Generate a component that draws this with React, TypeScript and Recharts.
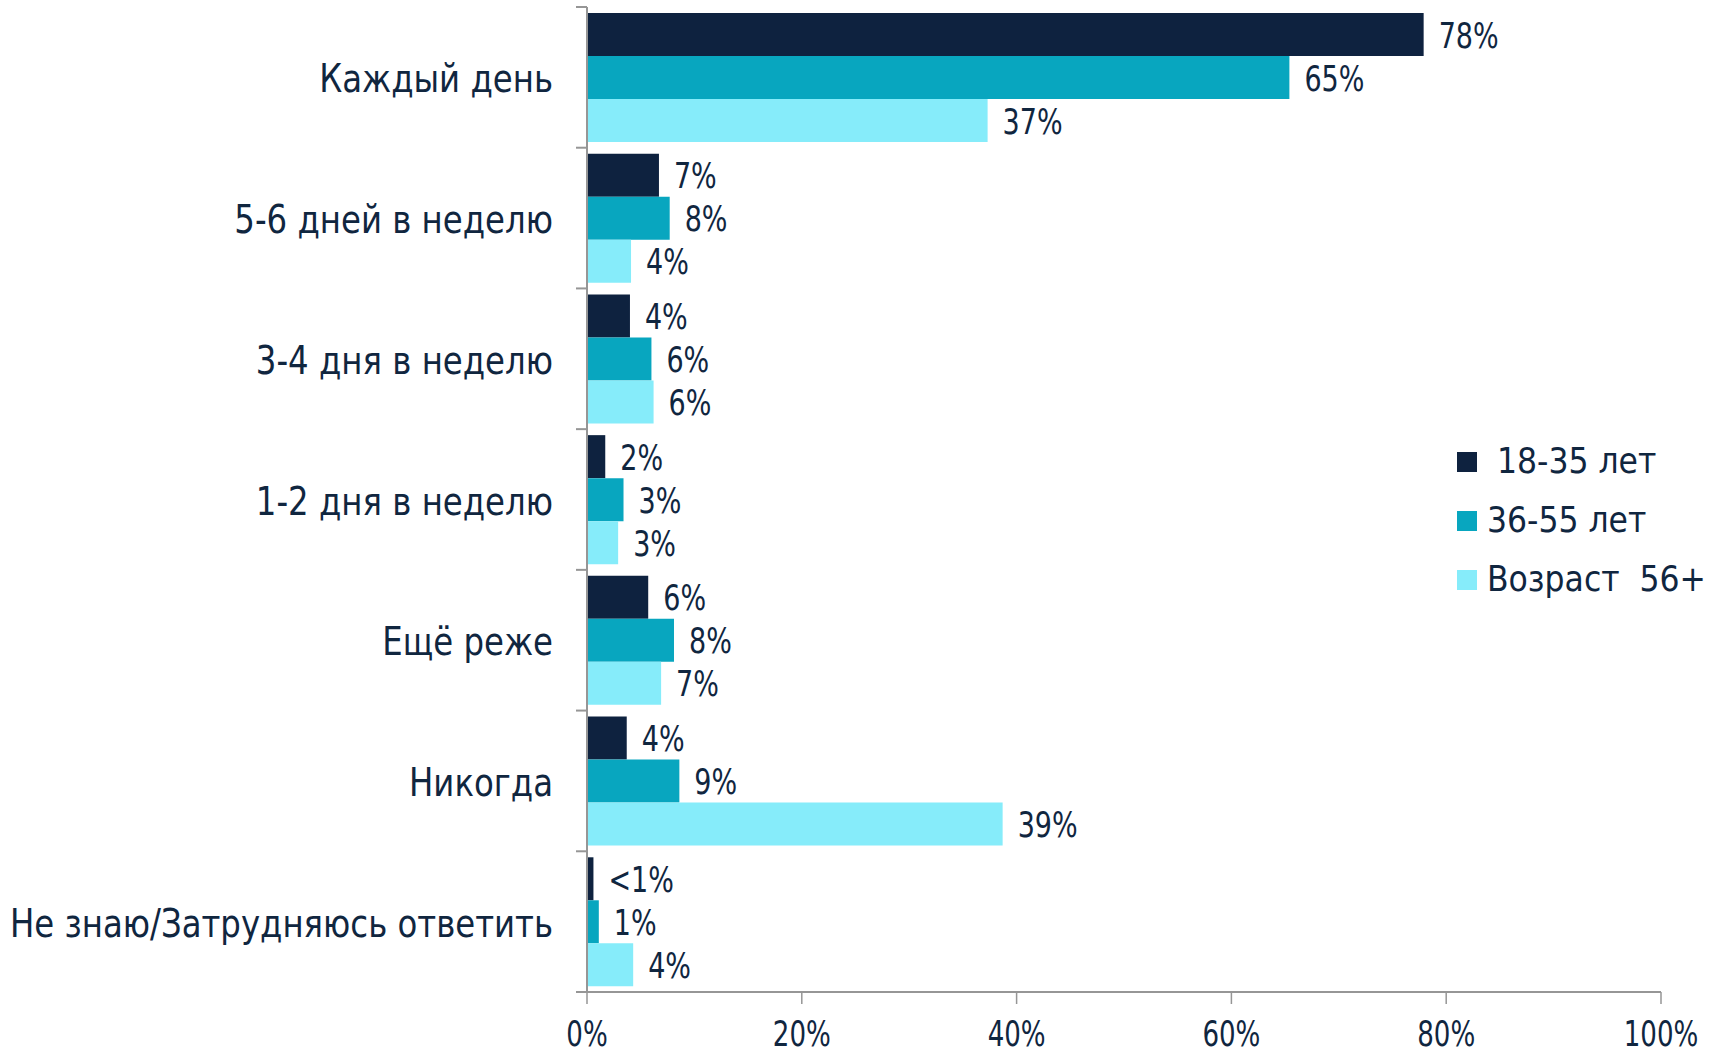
import React from 'react';
import { BarChart, Bar, XAxis, YAxis, Legend, LabelList } from 'recharts';

const categories = [
  'Каждый день',
  '5-6 дней в неделю',
  '3-4 дня в неделю',
  '1-2 дня в неделю',
  'Ещё реже',
  'Никогда',
  'Не знаю/Затрудняюсь ответить',
];
const youngValues = [77.9, 6.7, 4.0, 1.7, 5.7, 3.7, 0.6];
const middleValues = [65.4, 7.7, 6.0, 3.4, 8.1, 8.6, 1.1];
const seniorValues = [37.3, 4.1, 6.2, 2.9, 6.9, 38.7, 4.3];
const youngLabels = ['78%', '7%', '4%', '2%', '6%', '4%', '<1%'];
const middleLabels = ['65%', '8%', '6%', '3%', '8%', '9%', '1%'];
const seniorLabels = ['37%', '4%', '6%', '3%', '7%', '39%', '4%'];
const seriesNames = [' 18-35 лет', '36-55 лет', 'Возраст  56+'];
const xTicks = [0, 20, 40, 60, 80, 100];

const COLORS = ['#0E223F', '#08A6BF', '#86ECFA'];
const TEXT = '#10263F';
const AXIS = '#969696';
const FONT = "'DejaVu Sans Condensed', 'DejaVu Sans', sans-serif";

const W = 1723;
const H = 1056;
const AXIS_X = 587;
const TOP = 7;
const BOTTOM_AXIS_Y = 992;
const PLOT_H = BOTTOM_AXIS_Y - TOP;

const data = categories.map((name, i) => ({
  name,
  young: youngValues[i],
  middle: middleValues[i],
  senior: seniorValues[i],
  youngLabel: youngLabels[i],
  middleLabel: middleLabels[i],
  seniorLabel: seniorLabels[i],
}));

function StretchText(props: { x: number; y: number; text: string; size: number; sy: number; anchor: string }) {
  const { x, y, text, size, sy, anchor } = props;
  return (
    <text
      transform={`translate(${x} ${y}) scale(1 ${sy})`}
      x={0}
      y={0}
      textAnchor={anchor}
      fontSize={size}
      fontFamily={FONT}
      fill={TEXT}
      style={{ whiteSpace: 'pre' }}
    >
      {text}
    </text>
  );
}

const CategoryTick = (props: any) => {
  const { y, payload, index } = props;
  const band = PLOT_H / categories.length;
  const top = y - band / 2;
  const bottom = y + band / 2;
  return (
    <g>
      <line x1={AXIS_X - 11} x2={AXIS_X} y1={top} y2={top} stroke={AXIS} strokeWidth={2} />
      {index === categories.length - 1 && (
        <line x1={AXIS_X - 11} x2={AXIS_X} y1={bottom} y2={bottom} stroke={AXIS} strokeWidth={2} />
      )}
      <StretchText x={553} y={y + 15} text={payload.value} size={36} sy={1.1} anchor="end" />
    </g>
  );
};

const ValueTick = (props: any) => {
  const { x, payload } = props;
  return <StretchText x={x} y={1046} text={`${payload.value}%`} size={29} sy={1.25} anchor="middle" />;
};

const makeLabel = (labels: string[]) => (props: any) => {
  const { x, y, width, height, index } = props;
  return (
    <StretchText
      x={Number(x) + Number(width) + 15}
      y={Number(y) + Number(height) / 2 + 13}
      text={labels[index]}
      size={30}
      sy={1.2}
      anchor="start"
    />
  );
};

const renderLegend = () => (
  <div style={{ fontFamily: FONT, color: TEXT }}>
    {seriesNames.map((n, i) => (
      <div key={n} style={{ display: 'flex', alignItems: 'center', height: 59 }}>
        <div style={{ width: 20, height: 20, background: COLORS[i], marginRight: 10, flex: '0 0 auto' }} />
        <span style={{ fontSize: 35, lineHeight: '59px', whiteSpace: 'pre' }}>{n}</span>
      </div>
    ))}
  </div>
);

export default function App() {
  return (
    <div style={{ position: 'absolute', left: 0, top: 0, width: W, height: H, background: '#fff' }}>
      <BarChart
        width={W}
        height={H}
        data={data}
        layout="vertical"
        margin={{ top: TOP, right: W - 1661, bottom: 0, left: 0 }}
        barCategoryGap={6}
        barGap={0}
      >
        <XAxis
          type="number"
          domain={[0, 100]}
          ticks={xTicks}
          interval={0}
          height={H - BOTTOM_AXIS_Y}
          tickSize={12}
          axisLine={{ stroke: AXIS, strokeWidth: 2 }}
          tickLine={{ stroke: AXIS, strokeWidth: 1.5 }}
          tick={<ValueTick />}
        />
        <YAxis
          type="category"
          dataKey="name"
          width={AXIS_X}
          axisLine={{ stroke: AXIS, strokeWidth: 2 }}
          tickLine={false}
          interval={0}
          tick={<CategoryTick />}
        />
        <Legend
          layout="vertical"
          align="center"
          verticalAlign="middle"
          content={renderLegend}
          wrapperStyle={{ position: 'absolute', left: 1457, top: 432, width: 266 }}
        />
        <Bar dataKey="young" name={seriesNames[0]} fill={COLORS[0]} isAnimationActive={false}>
          <LabelList dataKey="youngLabel" content={makeLabel(youngLabels)} />
        </Bar>
        <Bar dataKey="middle" name={seriesNames[1]} fill={COLORS[1]} isAnimationActive={false}>
          <LabelList dataKey="middleLabel" content={makeLabel(middleLabels)} />
        </Bar>
        <Bar dataKey="senior" name={seriesNames[2]} fill={COLORS[2]} isAnimationActive={false}>
          <LabelList dataKey="seniorLabel" content={makeLabel(seniorLabels)} />
        </Bar>
      </BarChart>
    </div>
  );
}
